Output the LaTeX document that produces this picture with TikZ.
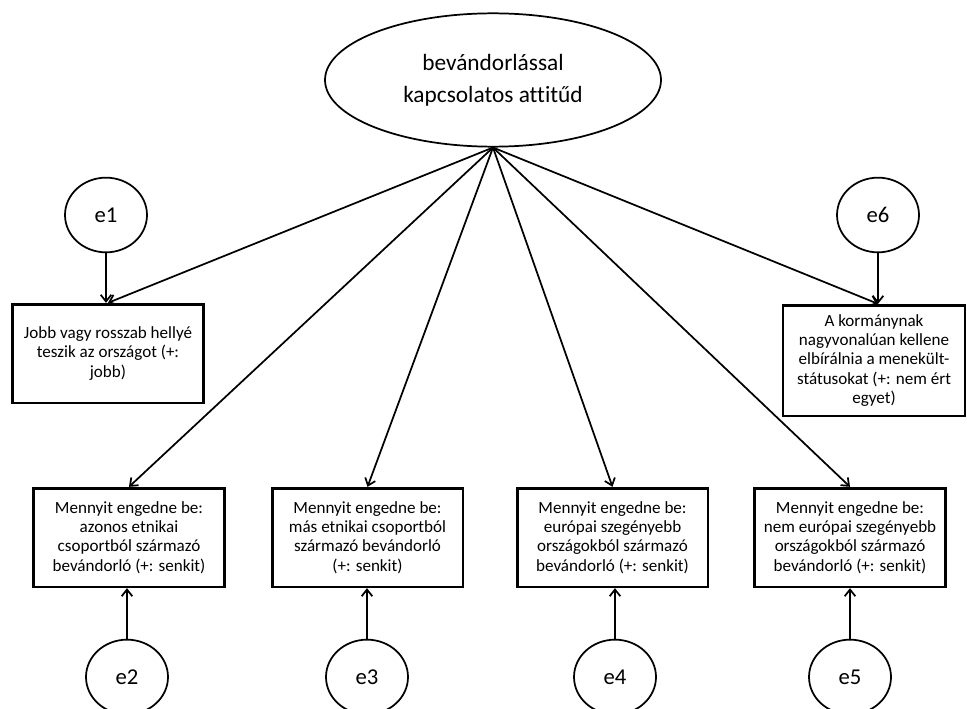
\documentclass[tikz,border=0pt]{standalone}
\usepackage{fontspec}
\setmainfont{Carlito}[Ligatures=NoCommon]
\usetikzlibrary{shapes.geometric,arrows.meta}

\begin{document}
\begin{tikzpicture}[x=0.75pt,y=-0.75pt,
    latent/.style = {draw, ellipse, line width=1.3pt, inner sep=0pt,
      minimum width=252pt, minimum height=100pt, align=center,
      font=\fontsize{17.5}{24}\selectfont},
    resid/.style = {draw, ellipse, line width=1.3pt, inner sep=0pt,
      minimum width=61.5pt, minimum height=56pt,
      font=\fontsize{17}{20}\selectfont},
    item/.style = {draw, rectangle, line width=2pt, inner sep=2pt,
      minimum width=143pt, minimum height=74pt, align=center,
      font=\fontsize{12.8}{14.5}\selectfont},
    path/.style = {line width=1.3pt, -{Straight Barb[length=5pt,width=8pt]}}]
      \useasboundingbox (0,0) rectangle (967,709);
      \clip (0,0) rectangle (967,709);

      \node[latent] (f) at (493,80) {bevándorlással\\kapcsolatos attitűd};

      \node[item] (b1) at (108,353.5) {Jobb vagy rosszab hellyé\\teszik az országot (+:\\jobb)};
      \node[item, minimum width=136.5pt, minimum height=83pt] (b6) at (874,360.5)
        {A kormánynak\\nagyvonalúan kellene\\elbírálnia a menekült-\\státusokat (+: nem ért\\egyet)};
      \node[item] (b2) at (129,537.5) {Mennyit engedne be:\\azonos etnikai\\csoportból származó\\bevándorló (+: senkit)};
      \node[item] (b3) at (367.5,537.5) {Mennyit engedne be:\\más etnikai csoportból\\származó bevándorló\\(+: senkit)};
      \node[item] (b4) at (612.5,537.5) {Mennyit engedne be:\\európai szegényebb\\országokból származó\\bevándorló (+: senkit)};
      \node[item] (b5) at (850,537.5) {Mennyit engedne be:\\nem európai szegényebb\\országokból származó\\bevándorló (+: senkit)};

      \node[resid] (e1) at (106,215) {e1};
      \node[resid] (e6) at (878,215) {e6};
      \node[resid] (e2) at (127,677) {e2};
      \node[resid] (e3) at (367,677) {e3};
      \node[resid] (e4) at (615,677) {e4};
      \node[resid] (e5) at (850,677) {e5};

      \draw[path] (f.south) to (b1.north);
      \draw[path] (f.south) to (b2.north);
      \draw[path] (f.south) to (b3.north);
      \draw[path] (f.south) to (b4.north);
      \draw[path] (f.south) to (b5.north);
      \draw[path] (f.south) to (e6 |- b6.north);

      \draw[path] (e1) to (e1 |- b1.north);
      \draw[path] (e6) to (e6 |- b6.north);
      \draw[path] (e2) to (e2 |- b2.south);
      \draw[path] (e3) to (e3 |- b3.south);
      \draw[path] (e4) to (e4 |- b4.south);
      \draw[path] (e5) to (e5 |- b5.south);

    \end{tikzpicture}
\end{document}
